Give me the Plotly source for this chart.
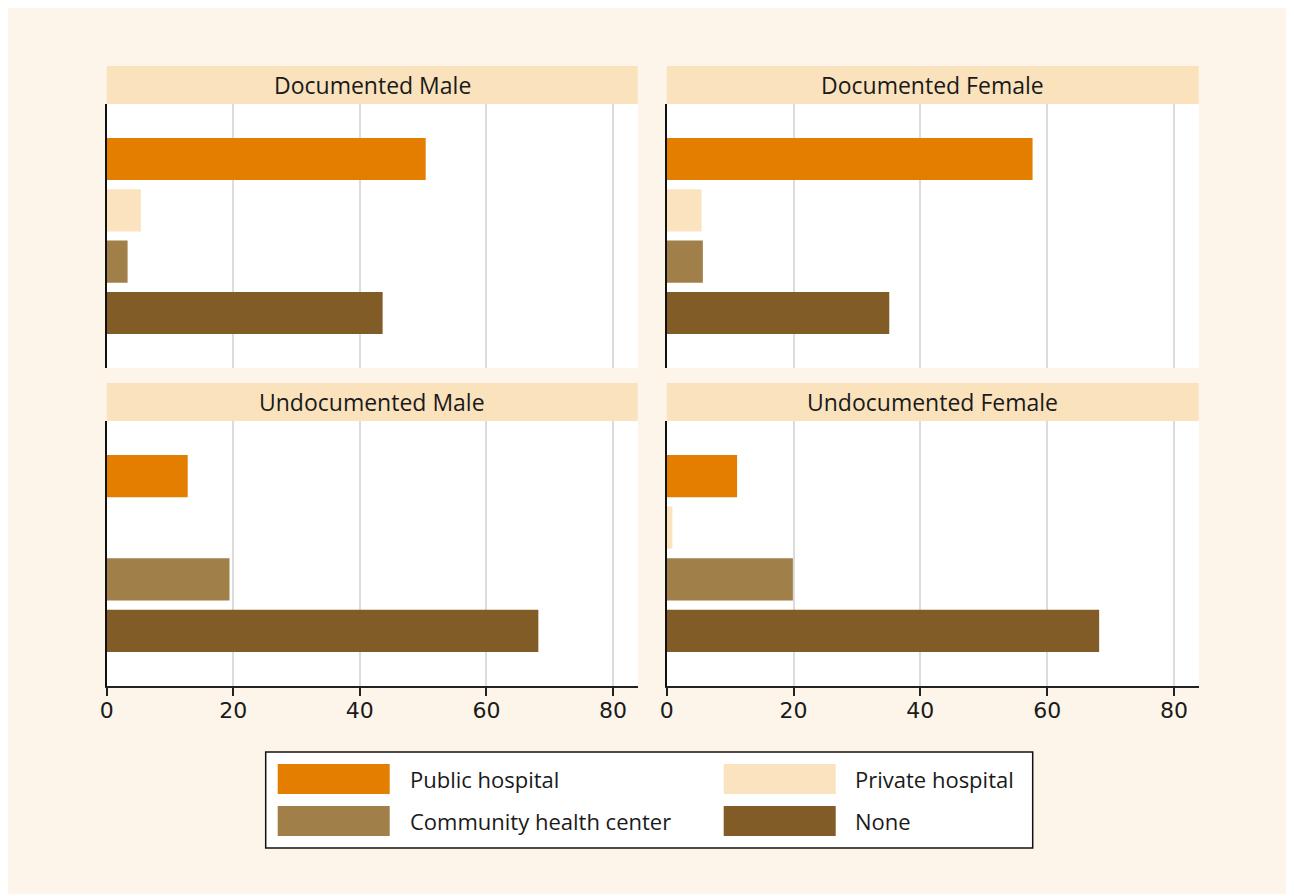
import plotly.graph_objects as go

# ---------------- data ----------------
panels = ["Documented Male", "Documented Female", "Undocumented Male", "Undocumented Female"]
series = ["Public hospital", "Private hospital", "Community health center", "None"]
public_hospital = [50.4, 57.7, 12.8, 11.1]
private_hospital = [5.4, 5.5, 0.0, 0.9]
community_health = [3.3, 5.7, 19.4, 19.9]
none_care = [43.6, 35.1, 68.2, 68.2]
x_ticks = [0, 20, 40, 60, 80]

values = [public_hospital, private_hospital, community_health, none_care]
colors = ["#E37E00", "#FAE3BE", "#A07F48", "#825C26"]

# ---------------- geometry (target pixels in the photographed page) ----------------
W, H = 1286, 886
OY = 8
X0_EFF, W_EFF = 14.3, 1279.0   # measured horizontal placement of the rendered figure


def fx(px):
    return (px - X0_EFF) / W_EFF


def fy(py):
    return 1 - (py - OY) / H


panel_x = [(106, 637), (666, 1198), (106, 637), (666, 1198)]
panel_y = [(104, 368), (104, 368), (421, 686), (421, 686)]
header_y = [(66, 104), (66, 104), (383, 421), (383, 421)]

fig = go.Figure()
layout = dict(
    width=W, height=H,
    margin=dict(l=0, r=0, t=0, b=0),
    paper_bgcolor="#FDF5E9",
    plot_bgcolor="white",
    barmode="overlay",
    showlegend=False,
    shapes=[], annotations=[],
)

for p in range(4):
    xa = "x" if p == 0 else f"x{p+1}"
    ya = "y" if p == 0 else f"y{p+1}"
    for s in range(4):
        fig.add_trace(go.Bar(
            x=[values[s][p]], y=[s], orientation="h", width=0.82,
            marker=dict(color=colors[s], line=dict(width=0)),
            name=series[s], xaxis=xa, yaxis=ya,
            hovertemplate=f"{panels[p]}<br>{series[s]}: %{{x}}<extra></extra>",
        ))
    bottom = p >= 2
    xkey = "xaxis" if p == 0 else f"xaxis{p+1}"
    ykey = "yaxis" if p == 0 else f"yaxis{p+1}"
    layout[xkey] = dict(
        domain=[fx(panel_x[p][0]), fx(panel_x[p][1])],
        anchor=ya, range=[0, 83.9],
        tickvals=x_ticks, showgrid=True, gridcolor="#DCDCDC", gridwidth=1.5,
        zeroline=False,
        showticklabels=bottom, ticks="outside" if bottom else "",
        ticklen=8, tickwidth=1.5, tickcolor="#222",
        ticklabelstandoff=-4,
        showline=bottom, linecolor="#222", linewidth=1.5,
        tickfont=dict(family="DejaVu Sans", size=22, color="#1a1a1a"),
        fixedrange=True,
    )
    layout[ykey] = dict(
        domain=[fy(panel_y[p][1]), fy(panel_y[p][0])],
        anchor=xa, range=[4.07, -1.07],
        showticklabels=False, showgrid=False, zeroline=False,
        showline=True, linecolor="#111", linewidth=2, ticks="",
        fixedrange=True,
    )
    # strip header
    layout["shapes"].append(dict(
        type="rect", xref="paper", yref="paper",
        x0=fx(panel_x[p][0]), x1=fx(panel_x[p][1]),
        y0=fy(header_y[p][1]), y1=fy(header_y[p][0]),
        fillcolor="#FAE2BD", line=dict(width=0), layer="below",
    ))
    layout["annotations"].append(dict(
        xref="paper", yref="paper",
        x=fx((panel_x[p][0] + panel_x[p][1]) / 2),
        y=fy((header_y[p][0] + header_y[p][1]) / 2),
        text=panels[p], showarrow=False, xanchor="center", yanchor="middle",
        font=dict(family="Open Sans", size=23, color="#1a1a1a"),
    ))

# legend box
layout["shapes"].append(dict(
    type="rect", xref="paper", yref="paper",
    x0=fx(265), x1=fx(1032), y0=fy(848), y1=fy(752),
    fillcolor="white", line=dict(color="#111", width=1.5),
))
sw_x = [277, 723, 277, 723]
sw_y = [764, 764, 806, 806]
txt_x = [407, 852, 407, 852]
for s in range(4):
    layout["shapes"].append(dict(
        type="rect", xref="paper", yref="paper",
        x0=fx(sw_x[s]), x1=fx(sw_x[s] + 112),
        y0=fy(sw_y[s] + 30), y1=fy(sw_y[s]),
        fillcolor=colors[s], line=dict(width=0),
    ))
    layout["annotations"].append(dict(
        xref="paper", yref="paper", x=fx(txt_x[s]), y=fy(sw_y[s] + 15),
        text=series[s], showarrow=False, xanchor="left", yanchor="middle",
        font=dict(family="Open Sans", size=22, color="#1a1a1a"),
    ))

fig.update_layout(**layout)
fig.write_html("out.html")
